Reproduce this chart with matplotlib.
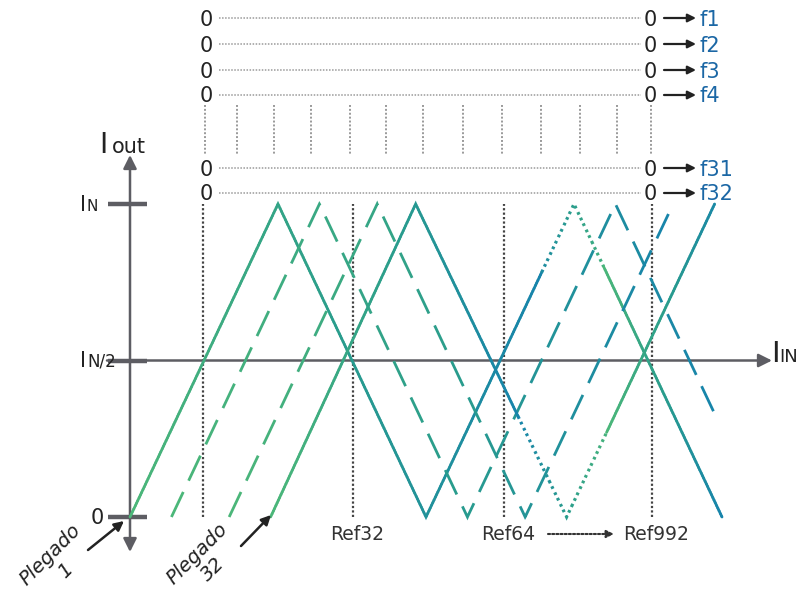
import numpy as np
import matplotlib.pyplot as plt
from matplotlib.collections import LineCollection
from matplotlib.colors import LinearSegmentedColormap

plt.rcParams['font.family'] = 'DejaVu Sans'

# folding signals: x in Ref steps, y in units of IN
fold1_x = [0, 1, 2, 3, 4]
fold1_y = [0, 1, 0, 1, 0]
foldA_x = [0.28, 1.28, 2.28, 3.28, 3.95]
foldA_y = [0, 1, 0, 1, 0.33]
foldB_x = [0.67, 1.67, 2.67, 3.67]
foldB_y = [0, 1, 0, 1]
fold32_x = [0.95, 1.93, 2.95, 3.95]
fold32_y = [0, 1, 0, 1]

# stretches of the two solid folds that are drawn dotted
fold1_dots = (2.78, 3.2)
fold32_dots = (2.62, 3.22)

ref_x = [0.49, 1.51, 2.53, 3.53]
ref_labels = ['', 'Ref32', 'Ref64', 'Ref992']
y_ticks = [0, 0.5, 1]
outputs = ['f1', 'f2', 'f3', 'f4', 'f31', 'f32']

# layout (pixels)
W, H = 797, 608
X0, XU, Y0, YU = 130, 148, 517, 313
row_y = [18, 44, 70, 95, 168, 193]
sep_x = [205, 237, 274, 311, 350, 386, 423, 463, 502, 541, 580, 617, 651]

axis_c = '#5d5d63'
text_c = '#222222'
blue_c = '#1b67a5'
cmap = LinearSegmentedColormap.from_list('fold', ['#4cb779', '#2a9d8c', '#1784ab'])

fig = plt.figure(figsize=(W / 100, H / 100), dpi=100)
ax = fig.add_axes([0, 0, 1, 1])
ax.set_xlim(-X0 / XU, (W - X0) / XU)
ax.set_ylim(-(H - Y0) / YU, Y0 / YU)
ax.axis('off')


def P(xp, yp):
    return ((xp - X0) / XU, (Y0 - yp) / YU)


def trace(xs, ys, lo, hi, t0, t1, on=3.0, off=0.0, lw=2.0):
    # draw part of a fold between lo and hi with a colour gradient and dash pattern (pixels)
    inner = [v for v in xs if lo < v < hi]
    xd = np.union1d(np.arange(lo, hi, 0.002), inner + [hi])
    yd = np.interp(xd, xs, ys)
    pts = np.column_stack([xd, yd])
    pix = ax.transData.transform(pts)
    s = np.concatenate([[0], np.cumsum(np.hypot(*np.diff(pix, axis=0).T))])
    period = on + off
    on_pt = (s % period) < on
    ids = np.floor(s / period).astype(int)
    segs, cols = [], []
    for k in np.unique(ids[on_pt]):
        idx = np.where((ids == k) & on_pt)[0]
        seg = pts[idx[0]: idx[-1] + 2] if off == 0 else pts[idx]
        if len(seg) < 2:
            continue
        segs.append(seg)
        xm = seg[:, 0].mean()
        cols.append(cmap(t0 + (t1 - t0) * (xm - lo) / (hi - lo)))
    cap = 'round' if off == 0 else 'butt'
    ax.add_collection(LineCollection(segs, colors=cols, linewidths=lw,
                                     capstyle=cap, joinstyle='miter', zorder=3))


# reference lines
for rx, lab in zip(ref_x, ref_labels):
    ax.plot([rx, rx], [0, 1], color='#444444', lw=1.6, ls=(0, (1, 1)), zorder=1)
    if lab:
        ax.text(rx + 4 / XU, P(0, 540)[1], lab, ha='center', va='baseline',
                fontsize=13.5, color='#333333')

ax.annotate('', xy=P(614, 534), xytext=P(548, 534),
            arrowprops=dict(arrowstyle='-|>', color='#333333', lw=1.5, ls=(0, (1, 1)),
                            mutation_scale=11, shrinkA=0, shrinkB=0))

# folds
trace(fold1_x, fold1_y, 0, fold1_dots[0], 0.0, 1.0)
trace(fold1_x, fold1_y, fold1_dots[0], fold1_dots[1], 0.85, 0.15, on=3.5, off=3, lw=2.3)
trace(fold1_x, fold1_y, fold1_dots[1], fold1_x[-1], 0.0, 1.0)

trace(foldA_x, foldA_y, foldA_x[0], foldA_x[-1], 0.0, 1.0, on=28, off=12)
trace(foldB_x, foldB_y, foldB_x[0], foldB_x[-1], 0.0, 1.0, on=28, off=12)

trace(fold32_x, fold32_y, fold32_x[0], fold32_dots[0], 0.0, 1.0)
trace(fold32_x, fold32_y, fold32_dots[0], fold32_dots[1], 1.0, 0.1, on=3.5, off=3, lw=2.3)
trace(fold32_x, fold32_y, fold32_dots[1], fold32_x[-1], 0.0, 0.9)

# axes
ax.annotate('', xy=P(130, 155), xytext=P(130, 552),
            arrowprops=dict(arrowstyle='<|-|>', color=axis_c, lw=1.8,
                            mutation_scale=20, shrinkA=0, shrinkB=0), zorder=2)
ax.annotate('', xy=(P(772, 0)[0], 0.5), xytext=(P(107, 0)[0], 0.5),
            arrowprops=dict(arrowstyle='-|>', color=axis_c, lw=1.8,
                            mutation_scale=20, shrinkA=0, shrinkB=0), zorder=2)
for yt in y_ticks:
    ax.plot([P(108, 0)[0], P(147, 0)[0]], [yt, yt], color=axis_c, lw=3.2,
            solid_capstyle='butt', zorder=2)

# axis labels
ax.text(*P(99.5, 153), 'I', fontsize=20, color=text_c, va='baseline')
ax.text(*P(112, 153), 'out', fontsize=15, color=text_c, va='baseline')
ax.text(*P(79.5, 211), 'I', fontsize=15, color=text_c, va='baseline')
ax.text(*P(87, 211), 'N', fontsize=11, color=text_c, va='baseline')
ax.text(*P(79.5, 367), 'I', fontsize=15, color=text_c, va='baseline')
ax.text(*P(87, 367), 'N/2', fontsize=12, color=text_c, va='baseline')
ax.text(*P(104, 524), '0', fontsize=15, color=text_c, va='baseline', ha='right')
ax.text(*P(771, 362), 'I', fontsize=21, color=text_c, va='baseline')
ax.text(*P(779, 362), 'IN', fontsize=13, color=text_c, va='baseline')

# output code rows
for ry, lab in zip(row_y, outputs):
    ax.text(*P(206, ry + 7.5), '0', fontsize=15, color=text_c, ha='center', va='baseline')
    ax.text(*P(650, ry + 7.5), '0', fontsize=15, color=text_c, ha='center', va='baseline')
    ax.plot([P(219, 0)[0], P(641, 0)[0]], [P(0, ry)[1]] * 2, color='#9a9a9a',
            lw=1.1, ls=(0, (1, 1)))
    ax.annotate('', xy=P(696, ry), xytext=P(664, ry),
                arrowprops=dict(arrowstyle='-|>', color=text_c, lw=1.6,
                                mutation_scale=12, shrinkA=0, shrinkB=0))
    ax.text(*P(699, ry + 7.5), lab, fontsize=15, color=blue_c, va='baseline')

for sx in sep_x:
    ax.plot([P(sx, 0)[0]] * 2, [P(0, 105)[1], P(0, 155)[1]], color='#9a9a9a',
            lw=1.4, ls=(0, (1, 1)))

# folding labels
ax.text(*P(58, 563), 'Plegado\n1', rotation=45, rotation_mode='anchor', ha='center',
        va='center', multialignment='center', style='italic', fontsize=14, color=text_c)
ax.text(*P(205, 562), 'Plegado\n32', rotation=45, rotation_mode='anchor', ha='center',
        va='center', multialignment='center', style='italic', fontsize=14, color=text_c)
ax.annotate('', xy=P(124, 521), xytext=P(88, 550),
            arrowprops=dict(arrowstyle='-|>', color=text_c, lw=1.8,
                            mutation_scale=14, shrinkA=0, shrinkB=0))
ax.annotate('', xy=P(271, 515), xytext=P(241, 546),
            arrowprops=dict(arrowstyle='-|>', color=text_c, lw=1.8,
                            mutation_scale=14, shrinkA=0, shrinkB=0))

fig.savefig('out.png', dpi=100)
